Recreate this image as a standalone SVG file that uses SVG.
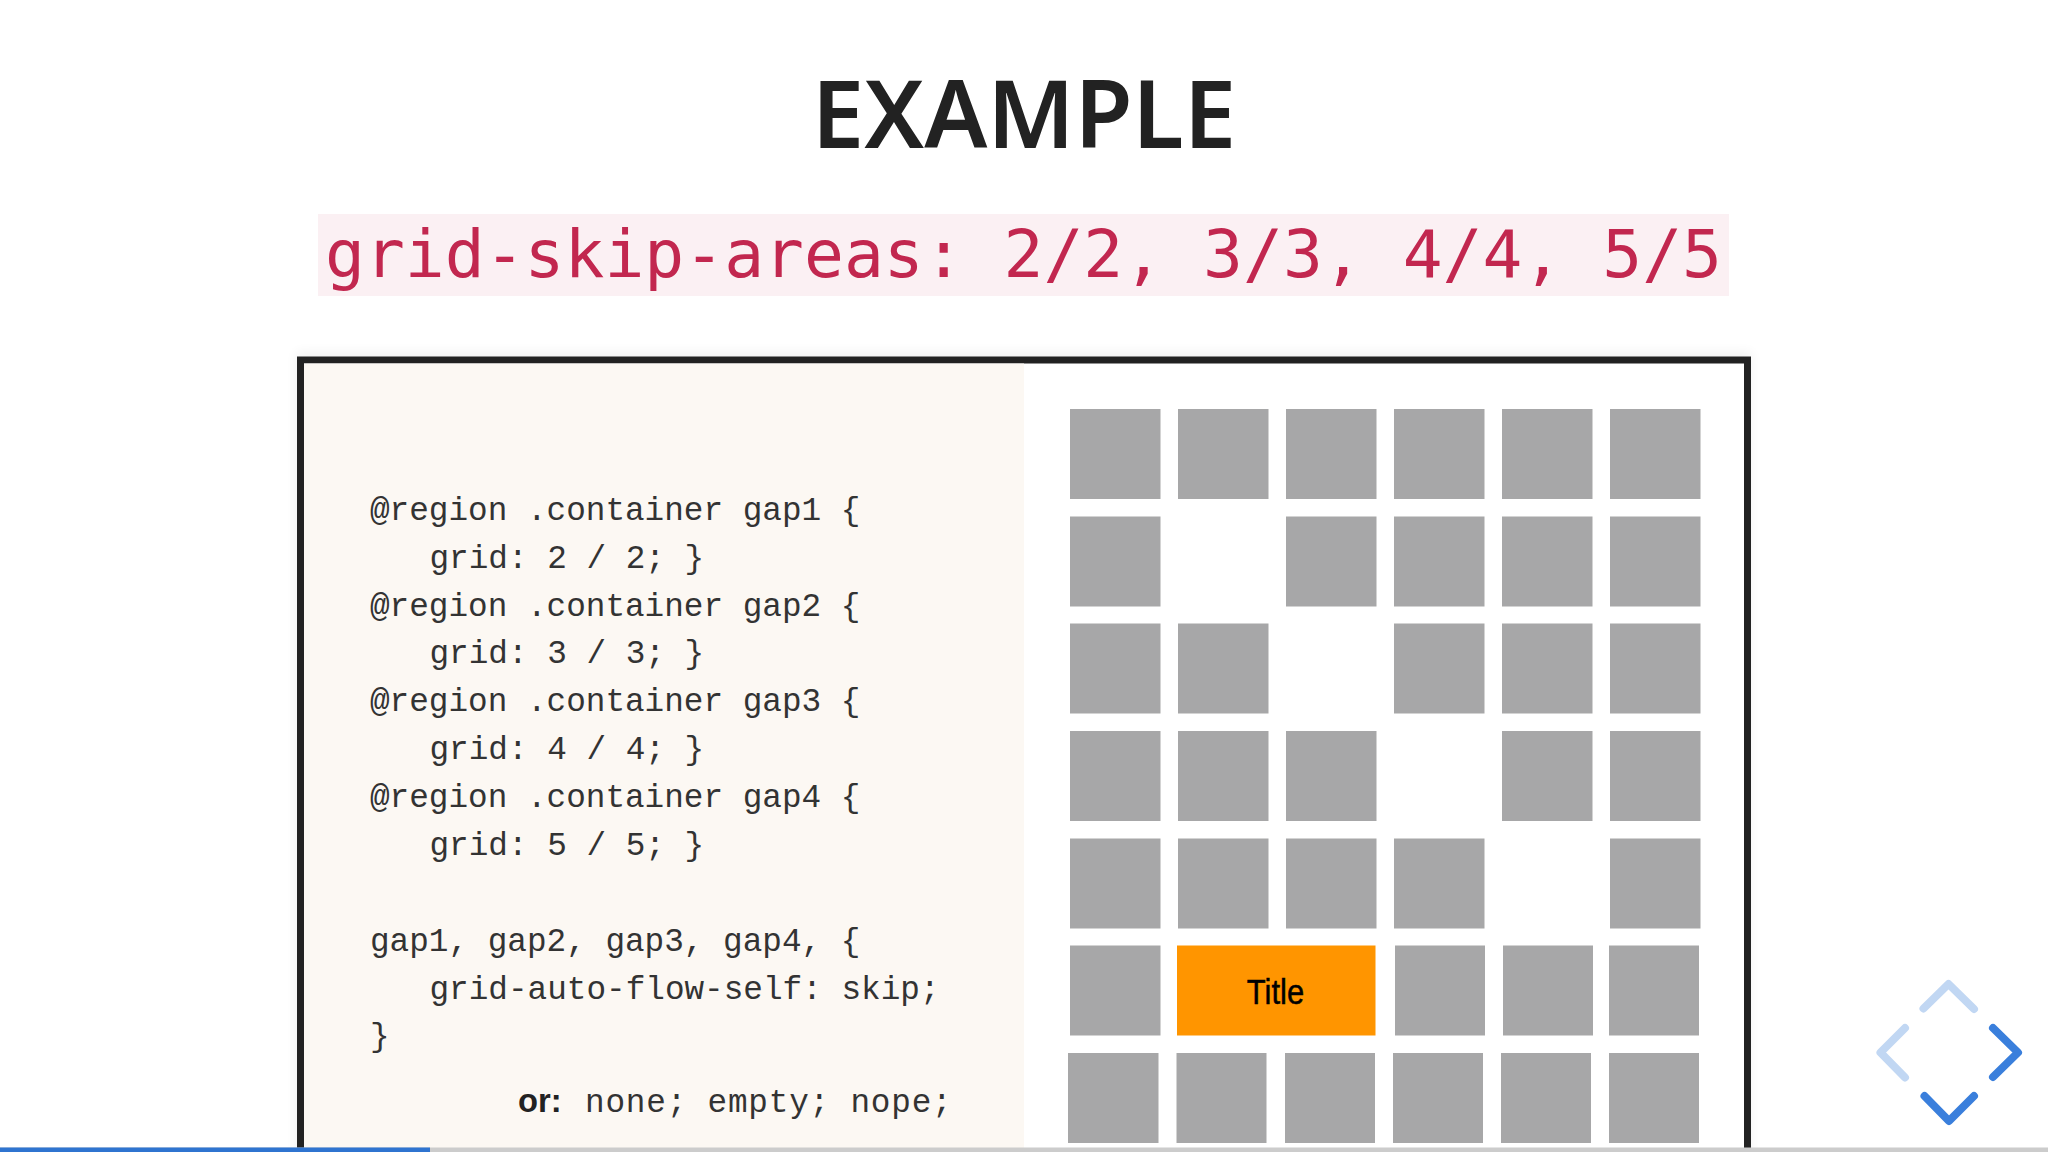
<svg xmlns="http://www.w3.org/2000/svg" width="2048" height="1152" viewBox="0 0 2048 1152">
<defs>
<filter id="soft" x="-5%" y="-5%" width="110%" height="110%"><feGaussianBlur stdDeviation="6"/></filter>
</defs>
<style>
.cell{fill:#a7a7a8}
.code{font-family:"Liberation Mono",monospace;font-size:32.700px;fill:#333}
.nav{fill:none;stroke-width:8;stroke-linecap:round;stroke-linejoin:round}
.off{stroke:#c1d7f3}
.on{stroke:#3a7fdc}
</style>
<rect width="2048" height="1152" fill="#fff"/>
<g id="heading">
<text x="1024" y="148" text-anchor="middle" font-family="'Noto Sans',sans-serif" font-weight="600" font-size="94" fill="#222">EXAMPLE</text>
</g>
<g id="code-title">
<rect x="318" y="214" width="1411" height="82" fill="#fbf0f3"/>
<text x="325" y="277" font-family="'DejaVu Sans Mono',monospace" font-size="66.3" fill="#c2274f">grid-skip-areas: 2/2, 3/3, 4/4, 5/5</text>
</g>
<g id="panel">
<rect x="296" y="352" width="1456" height="830" fill="#000" opacity=".05" filter="url(#soft)"/>
<rect x="300.500" y="360" width="1447" height="820" fill="#fff" stroke="#222" stroke-width="7"/>
<rect x="304" y="363.500" width="720" height="800" fill="#fcf8f3"/>
</g>
<g id="code-block" class="code">
<text x="370" y="520">@region .container gap1 {</text>
<text x="429.500" y="567.500">grid: 2 / 2; }</text>
<text x="370" y="615.500">@region .container gap2 {</text>
<text x="429.500" y="663">grid: 3 / 3; }</text>
<text x="370" y="711">@region .container gap3 {</text>
<text x="429.500" y="759">grid: 4 / 4; }</text>
<text x="370" y="807">@region .container gap4 {</text>
<text x="429.500" y="854.500">grid: 5 / 5; }</text>
<text x="370" y="951">gap1, gap2, gap3, gap4, {</text>
<text x="429.500" y="998.500">grid-auto-flow-self: skip;</text>
<text x="370" y="1046">}</text>
<text x="518" y="1112" font-family="'Liberation Sans',sans-serif" font-weight="700" fill="#222">or:</text>
<text x="585" y="1112" letter-spacing="0.800">none; empty; nope;</text>
</g>
<g id="grid-row-1" class="cell">
<rect x="1070" y="409" width="90.500" height="90"/><rect x="1178" y="409" width="90.500" height="90"/><rect x="1286" y="409" width="90.500" height="90"/><rect x="1394" y="409" width="90.500" height="90"/><rect x="1502" y="409" width="90.500" height="90"/><rect x="1610" y="409" width="90.500" height="90"/>
</g>
<g id="grid-row-2" class="cell">
<rect x="1070" y="516.500" width="90.500" height="90"/><rect x="1286" y="516.500" width="90.500" height="90"/><rect x="1394" y="516.500" width="90.500" height="90"/><rect x="1502" y="516.500" width="90.500" height="90"/><rect x="1610" y="516.500" width="90.500" height="90"/>
</g>
<g id="grid-row-3" class="cell">
<rect x="1070" y="623.500" width="90.500" height="90"/><rect x="1178" y="623.500" width="90.500" height="90"/><rect x="1394" y="623.500" width="90.500" height="90"/><rect x="1502" y="623.500" width="90.500" height="90"/><rect x="1610" y="623.500" width="90.500" height="90"/>
</g>
<g id="grid-row-4" class="cell">
<rect x="1070" y="731" width="90.500" height="90"/><rect x="1178" y="731" width="90.500" height="90"/><rect x="1286" y="731" width="90.500" height="90"/><rect x="1502" y="731" width="90.500" height="90"/><rect x="1610" y="731" width="90.500" height="90"/>
</g>
<g id="grid-row-5" class="cell">
<rect x="1070" y="838.500" width="90.500" height="90"/><rect x="1178" y="838.500" width="90.500" height="90"/><rect x="1286" y="838.500" width="90.500" height="90"/><rect x="1394" y="838.500" width="90.500" height="90"/><rect x="1610" y="838.500" width="90.500" height="90"/>
</g>
<g id="grid-row-6" class="cell">
<rect x="1070" y="945.500" width="90.500" height="90"/><rect x="1395" y="945.500" width="90" height="90"/><rect x="1503" y="945.500" width="90" height="90"/><rect x="1609" y="945.500" width="90" height="90"/>
</g>
<g id="title-cell">
<rect x="1177" y="945.500" width="198.500" height="90" fill="#ff9500"/>
<text transform="translate(1275.500 1004) scale(.86 1)" text-anchor="middle" font-family="'Liberation Sans',sans-serif" font-size="36" fill="#000" stroke="#000" stroke-width=".5">Title</text>
</g>
<g id="grid-row-7" class="cell">
<rect x="1068" y="1053" width="90.500" height="90"/><rect x="1176.500" y="1053" width="90" height="90"/><rect x="1285" y="1053" width="90" height="90"/><rect x="1393" y="1053" width="90" height="90"/><rect x="1501" y="1053" width="90" height="90"/><rect x="1609" y="1053" width="90" height="90"/>
</g>
<g id="navigation">
<polyline class="nav off" points="1923.500,1008.500 1948.500,984 1974,1009"/>
<polyline class="nav off" points="1905,1028 1880.500,1052.500 1905,1077.500"/>
<polyline class="nav on" points="1993,1028 2018,1052.500 1993,1077"/>
<polyline class="nav on" points="1924.500,1096 1949,1121 1974,1096"/>
</g>
<g id="progress">
<rect x="0" y="1147.500" width="2048" height="4.500" fill="#ccc"/>
<rect x="0" y="1147.500" width="430" height="4.500" fill="#2f74d0"/>
</g>
</svg>
